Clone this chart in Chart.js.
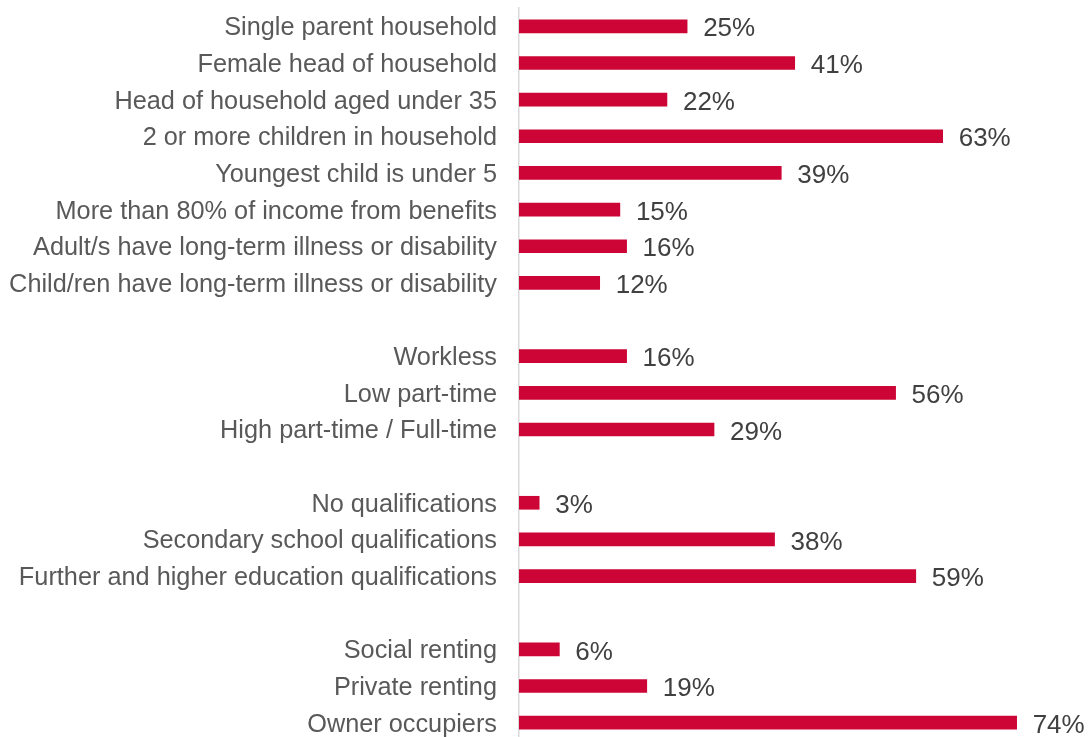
<!DOCTYPE html>
<html>
<head>
<meta charset="utf-8">
<script src="https://cdn.jsdelivr.net/npm/chart.js@4/dist/chart.umd.min.js"></script>
<style>
  html, body { margin: 0; padding: 0; background: #fff; overflow: hidden; }
  #wrap { width: 1089px; height: 737px; overflow: hidden; }
</style>
</head>
<body>
<div id="wrap"><canvas id="chart" width="1089" height="745"></canvas></div>
<script>
// Household characteristics, share of group (%). Empty labels are spacer rows.
const categories = [
  "Single parent household",
  "Female head of household",
  "Head of household aged under 35",
  "2 or more children in household",
  "Youngest child is under 5",
  "More than 80% of income from benefits",
  "Adult/s have long-term illness or disability",
  "Child/ren have long-term illness or disability",
  "",
  "Workless",
  "Low part-time",
  "High part-time / Full-time",
  "",
  "No qualifications",
  "Secondary school qualifications",
  "Further and higher education qualifications",
  "",
  "Social renting",
  "Private renting",
  "Owner occupiers",
];
const values = [25, 41, 22, 63, 39, 15, 16, 12, null, 16, 56, 29, null, 3, 38, 59, null, 6, 19, 74];

const BAR_COLOR = "#cd0436";

// draws "25%" etc. just past the end of each bar
const valueLabels = {
  id: "valueLabels",
  afterDatasetsDraw(chart) {
    const ctx = chart.ctx;
    const meta = chart.getDatasetMeta(0);
    ctx.save();
    ctx.font = "26px 'Liberation Sans', Arial, sans-serif";
    ctx.fillStyle = "#404040";
    ctx.textAlign = "left";
    ctx.textBaseline = "middle";
    meta.data.forEach((bar, i) => {
      if (values[i] == null) return;
      ctx.fillText(values[i] + "%", bar.x + 16, bar.y + 3);
    });
    ctx.restore();
  },
};

new Chart(document.getElementById("chart"), {
  type: "bar",
  data: {
    labels: categories,
    datasets: [
      {
        data: values,
        backgroundColor: BAR_COLOR,
        barThickness: 13,
      },
    ],
  },
  options: {
    indexAxis: "y",
    responsive: false,
    animation: false,
    layout: { padding: { top: 8, bottom: 4, right: 32, left: 0 } },
    plugins: { legend: { display: false }, tooltip: { enabled: false } },
    scales: {
      x: { display: false, min: 0, max: 80 },
      y: {
        offset: true,
        grid: { display: false, drawTicks: false },
        border: { display: true, color: "#d9d9d9", width: 1.5 },
        ticks: {
          color: "#595959",
          padding: 22,
          labelOffset: 2,
          autoSkip: false,
          font: { family: "'Liberation Sans', Arial, sans-serif", size: 25.3 },
        },
        afterFit: (scale) => {
          scale.width = 519;
          scale.paddingTop = 0;
          scale.paddingBottom = 0;
        },
      },
    },
  },
  plugins: [valueLabels],
});
</script>
</body>
</html>
